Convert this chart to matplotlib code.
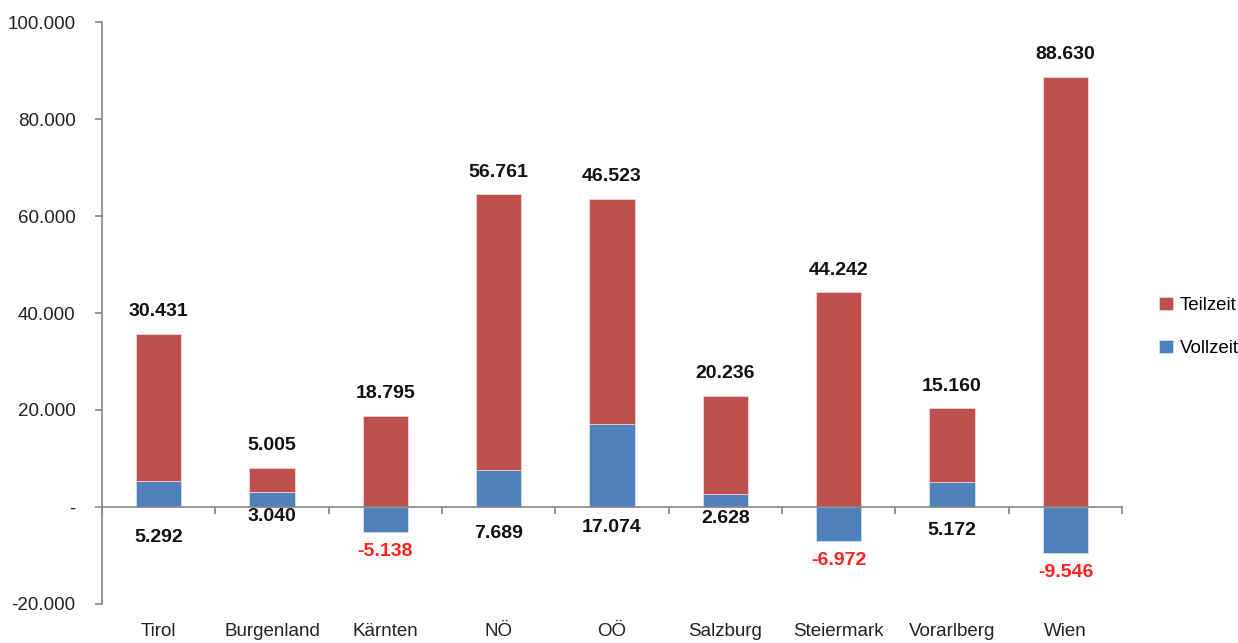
import numpy as np
import matplotlib
matplotlib.use("Agg")
from matplotlib import pyplot as plt
from matplotlib.transforms import blended_transform_factory

regions = ["Tirol", "Burgenland", "Kärnten", "NÖ", "OÖ", "Salzburg",
           "Steiermark", "Vorarlberg", "Wien"]
vollzeit = [5292, 3040, -5138, 7689, 17074, 2628, -6972, 5172, -9546]
teilzeit = [30431, 5005, 18795, 56761, 46523, 20236, 44242, 15160, 88630]

plt.rcParams['font.family'] = ['Liberation Sans', 'DejaVu Sans']

red = '#C0504D'
blue = '#4F81BD'
grey = '#868686'

fig = plt.figure(figsize=(12.38, 6.43), dpi=100)
ax = fig.add_axes([0.0824, 0.0607, 0.824, 0.905])

x = np.arange(len(regions))
voll = np.array(vollzeit)
teil = np.array(teilzeit)
# excel stacking: teilzeit sits on vollzeit only if vollzeit is positive
base = np.where(voll > 0, voll, 0)

ax.bar(x, voll, width=0.4, color=blue, edgecolor='#dce6f2', linewidth=0.5, label='Vollzeit')
ax.bar(x, teil, width=0.4, bottom=base, color=red, edgecolor='#f2dcdb', linewidth=0.5, label='Teilzeit')

ax.set_xlim(-0.5, len(regions) - 0.5)
ax.set_ylim(-20000, 100000)
ax.set_yticks(np.arange(-20000, 100001, 20000))
ax.set_yticklabels(['-20.000', '-', '20.000', '40.000', '60.000', '80.000', '100.000'])

ax.spines['top'].set_visible(False)
ax.spines['right'].set_visible(False)
ax.spines['bottom'].set_position(('data', 0))
for s in ['left', 'bottom']:
    ax.spines[s].set_color(grey)
    ax.spines[s].set_linewidth(1.2)

ax.set_xticks(np.arange(-0.5, len(regions), 1.0))
ax.set_xticklabels([])
ax.tick_params(axis='x', direction='out', length=5, color=grey, width=1.2)
ax.tick_params(axis='y', direction='out', length=5, color=grey, width=1.2,
               labelsize=13.5, labelcolor='#222222', pad=14)

trans = blended_transform_factory(ax.transData, ax.transAxes)
for i, name in enumerate(regions):
    ax.text(i, -0.048, name, transform=trans, ha='center', va='center',
            fontsize=13.5, color='#222222')

def fmt(v):
    return f"{v:,}".replace(',', '.')

# label offsets below the axis for positive vollzeit (points)
voll_offsets = [-22, -7, 0, -19, -15, -8, 0, -17, 0]
for i in range(len(regions)):
    top = base[i] + teil[i]
    ax.annotate(fmt(teil[i]), (x[i], top), xytext=(0, 16), textcoords='offset points',
                ha='center', va='center', fontsize=14, fontweight='bold', color='#111111')
    if voll[i] > 0:
        ax.annotate(fmt(voll[i]), (x[i], 0), xytext=(0, voll_offsets[i]),
                    textcoords='offset points', ha='center', va='center',
                    fontsize=14, fontweight='bold', color='#111111')
    else:
        ax.annotate(fmt(voll[i]), (x[i], voll[i]), xytext=(0, -14),
                    textcoords='offset points', ha='center', va='center',
                    fontsize=14, fontweight='bold', color='#FF2020')

handles, labels = ax.get_legend_handles_labels()
ax.legend(handles[::-1], labels[::-1], loc='center left', bbox_to_anchor=(1.02, 0.476),
          frameon=False, fontsize=13.5, handlelength=0.7, handleheight=0.7,
          labelspacing=1.4, handletextpad=0.4)

fig.savefig('out.png', dpi=100)
